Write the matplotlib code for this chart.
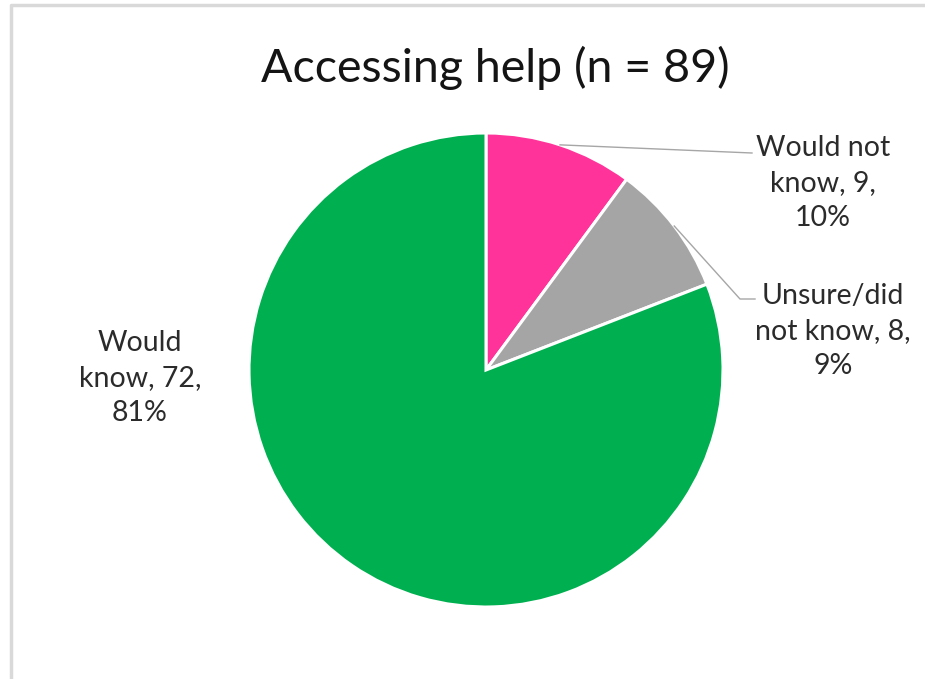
import numpy as np
import matplotlib
matplotlib.use('Agg')
import matplotlib.pyplot as plt
from matplotlib.lines import Line2D

categories = ['Would not\nknow', 'Unsure/did\nnot know', 'Would\nknow']
counts = [9, 8, 72]
percents = [10, 9, 81]
colors = ['#FF3399', '#A5A5A5', '#00B050']

W, H = 925, 679
plt.rcParams['font.family'] = ['Lato', 'DejaVu Sans']

fig = plt.figure(figsize=(W / 100, H / 100), dpi=100)
ax = fig.add_axes([0, 0, 1, 1])

cx, cy, r = 486, H - 370, 237
wedges, _ = ax.pie(counts, colors=colors, startangle=90, counterclock=False,
                   center=(cx, cy), radius=r, frame=False,
                   wedgeprops=dict(edgecolor='white', linewidth=2.2))
ax.set_xlim(0, W)
ax.set_ylim(0, H)
ax.set_aspect('equal')
ax.axis('off')

# label anchors (centre of text block) and leader-line elbows, pixel coords from top
label_pos = [(823, 183), (833, 331), (140, 378)]
leader_pts = [[(752, 153)], [(740, 299), (755, 299)], None]

for w, name, n, p, pos, pts in zip(wedges, categories, counts, percents, label_pos, leader_pts):
    txt = f'{name}, {n},\n{p}%'
    ax.text(pos[0], H - pos[1], txt, ha='center', va='center', fontsize=20.5,
            color='#2b2b2b', linespacing=1.42)
    if pts:
        mid = np.deg2rad((w.theta1 + w.theta2) / 2)
        xs = [cx + r * np.cos(mid)] + [q[0] for q in pts]
        ys = [cy + r * np.sin(mid)] + [H - q[1] for q in pts]
        ax.plot(xs, ys, color='#A6A6A6', lw=1.0)

ax.text(W / 2 + 33, H - 68, 'Accessing help (n = 89)', ha='center', va='center',
        fontsize=33.5, color='#141414')

# chart frame (only top and left edges visible)
fig.add_artist(Line2D([11 / W, 11 / W, 1], [0, 1 - 5 / H, 1 - 5 / H],
                      transform=fig.transFigure, color='#D9D9D9', lw=2.5))

fig.savefig('out.png', dpi=100)
